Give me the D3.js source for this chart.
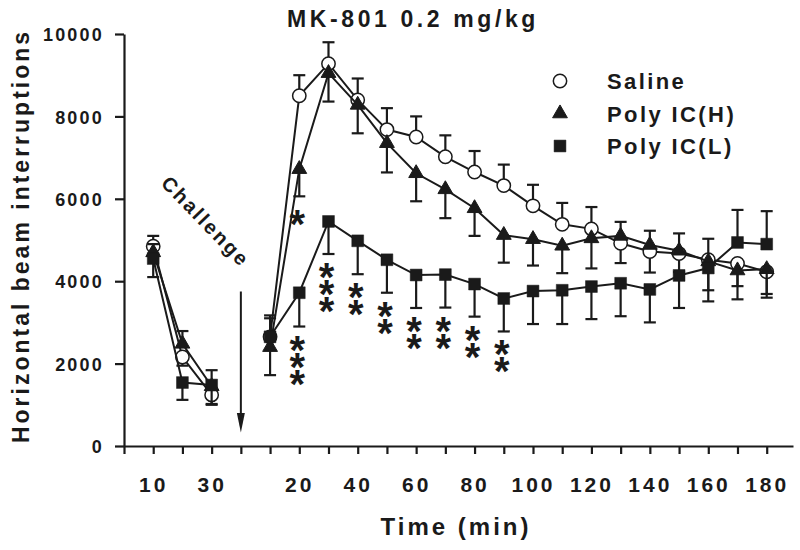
<!DOCTYPE html>
<html>
<head>
<meta charset="utf-8">
<script src="https://cdn.jsdelivr.net/npm/d3@7"></script>
<style>
  body { margin: 0; background: #fff; }
  svg text { font-family: "Liberation Sans", Arial, sans-serif; font-weight: bold; fill: #1a1a1a; }
</style>
</head>
<body>
<script>
// slots on the x axis: 0 = origin, 1-3 = pre-challenge, 4 = challenge, 5-22 = post
var xTickLabels = ["", "10", "", "30", "", "", "20", "", "40", "", "60", "", "80", "", "100", "", "120", "", "140", "", "160", "", "180"];
var preSlots = [1, 2, 3];
var postSlots = d3.range(5, 23);
var yTicks = [0, 2000, 4000, 6000, 8000, 10000];

// means (pre-challenge 10,20,30 min ; post-challenge 10..180 min)
var salinePre = [4850, 2160, 1240];
var polyHPre = [4700, 2480, 1450];
var polyLPre = [4550, 1540, 1480];
var salinePost = [2650, 8500, 9280, 8400, 7680, 7500, 7020, 6650, 6320, 5830, 5380, 5270, 4920, 4720, 4670, 4520, 4430, 4230];
var polyHPost = [2400, 6720, 9050, 8280, 7350, 6620, 6230, 5770, 5120, 5020, 4860, 5040, 5100, 4880, 4740, 4480, 4260, 4290];
var polyLPost = [2650, 3720, 5450, 4980, 4520, 4150, 4160, 3930, 3580, 3760, 3780, 3870, 3950, 3800, 4140, 4320, 4940, 4900];

// SEM drawn one-sided: positive = bar up, negative = bar down
var salinePreSem = [250, -210, -220];
var polyHPreSem = [200, 310, -450];
var polyLPreSem = [-450, -420, 360];
var salinePostSem = [450, 500, 520, 520, 520, 500, 520, 510, 510, 510, 520, 530, -480, -510, -450, 510, -550, -630];
var polyHPostSem = [-680, -660, -690, -690, -710, -680, -700, -670, -670, -640, -665, -730, 340, 345, 420, -700, -700, -600];
var polyLPostSem = [520, -820, -790, -810, -800, -800, -800, -790, -800, -800, -820, -790, -800, -800, -790, -810, 790, 800];

// significance marks (Poly IC(L) and Poly IC(H) vs saline)
var starSlotsL = [6, 7, 8, 9, 10, 11, 12, 13];
var starTextL = ["***", "***", "**", "**", "**", "**", "**", "**"];
var starSlotsH = [6];
var starTextH = ["*"];

var W = 800, H = 550;
var svg = d3.select("body").append("svg").attr("width", W).attr("height", H);

var x = d3.scaleLinear().domain([0, 22.9]).range([124, 793]);
var y = d3.scaleLinear().domain([0, 10000]).range([446, 34]);

// axes
var xAxis = svg.append("g").attr("transform", "translate(0," + y(0) + ")")
  .call(d3.axisBottom(x).tickValues(d3.range(0, 23)).tickSize(8).tickSizeOuter(0)
    .tickFormat(function (d) { return xTickLabels[d]; }));
var yAxis = svg.append("g").attr("transform", "translate(" + x(0) + ",0)")
  .call(d3.axisLeft(y).tickValues(yTicks).tickSize(9).tickSizeOuter(0).tickFormat(d3.format("d")));

[xAxis, yAxis].forEach(function (g) {
  g.select(".domain").attr("stroke", "#1a1a1a").attr("stroke-width", 2.2);
  g.selectAll(".tick line").attr("stroke", "#1a1a1a").attr("stroke-width", 2.2);
});
xAxis.selectAll(".tick text").attr("y", 46).attr("dy", null)
  .style("font-size", "21px").style("letter-spacing", "3px");
yAxis.selectAll(".tick text").attr("x", -20).attr("dy", "0.37em")
  .style("font-size", "18px").style("letter-spacing", "2.2px");

// titles
svg.append("text").attr("x", 413).attr("y", 27).attr("text-anchor", "middle")
  .style("font-size", "23px").style("letter-spacing", "3.6px").text("MK-801 0.2 mg/kg");
svg.append("text").attr("x", 456).attr("y", 535).attr("text-anchor", "middle")
  .style("font-size", "24px").style("letter-spacing", "3px").text("Time (min)");
svg.append("text").attr("transform", "translate(29,236) rotate(-90)").attr("text-anchor", "middle")
  .style("font-size", "23px").style("letter-spacing", "3px").text("Horizontal beam interruptions");

// challenge annotation
svg.append("text").attr("transform", "translate(" + x(2.8) + "," + y(5450) + ") rotate(46)")
  .attr("text-anchor", "middle").attr("dy", "0.35em")
  .style("font-size", "20px").style("letter-spacing", "2.4px").text("Challenge");
svg.append("line").attr("x1", x(4)).attr("x2", x(4)).attr("y1", y(3750)).attr("y2", y(500))
  .attr("stroke", "#1a1a1a").attr("stroke-width", 2);
svg.append("path").attr("d", "M" + (x(4) - 4) + "," + y(800) + "L" + x(4) + "," + y(330) + "L" + (x(4) + 4) + "," + y(800) + "Z")
  .attr("fill", "#1a1a1a");

var line = d3.line().x(function (d) { return x(d[0]); }).y(function (d) { return y(d[1]); });

function drawSeries(preVals, preSem, postVals, postSem, marker) {
  var g = svg.append("g");
  var pts = [];
  preSlots.forEach(function (s, i) { pts.push({ s: s, v: preVals[i], e: preSem[i] }); });
  postSlots.forEach(function (s, i) { pts.push({ s: s, v: postVals[i], e: postSem[i] }); });

  g.selectAll(".err").data(pts).enter().append("line")
    .attr("x1", function (d) { return x(d.s); }).attr("x2", function (d) { return x(d.s); })
    .attr("y1", function (d) { return y(d.v); }).attr("y2", function (d) { return y(d.v + d.e); })
    .attr("stroke", "#1a1a1a").attr("stroke-width", 2.2);
  g.selectAll(".cap").data(pts).enter().append("line")
    .attr("x1", function (d) { return x(d.s) - 6; }).attr("x2", function (d) { return x(d.s) + 6; })
    .attr("y1", function (d) { return y(d.v + d.e); }).attr("y2", function (d) { return y(d.v + d.e); })
    .attr("stroke", "#1a1a1a").attr("stroke-width", 2.2);

  [preSlots.map(function (s, i) { return [s, preVals[i]]; }),
   postSlots.map(function (s, i) { return [s, postVals[i]]; })].forEach(function (seg) {
    g.append("path").attr("d", line(seg)).attr("fill", "none").attr("stroke", "#1a1a1a").attr("stroke-width", 2);
  });

  g.selectAll(".pt").data(pts).enter().append("path")
    .attr("transform", function (d) { return "translate(" + x(d.s) + "," + y(d.v) + ")"; })
    .attr("d", marker.path).attr("fill", marker.fill).attr("stroke", "#1a1a1a").attr("stroke-width", marker.sw);
}

var markers = {
  saline: { path: d3.symbol(d3.symbolCircle, 140)(), fill: "#fff", sw: 1.5 },
  polyH: { path: d3.symbol(d3.symbolTriangle, 95)(), fill: "#1a1a1a", sw: 1 },
  polyL: { path: d3.symbol(d3.symbolSquare, 140)(), fill: "#1a1a1a", sw: 0.5 }
};

drawSeries(salinePre, salinePreSem, salinePost, salinePostSem, markers.saline);
drawSeries(polyHPre, polyHPreSem, polyHPost, polyHPostSem, markers.polyH);
drawSeries(polyLPre, polyLPreSem, polyLPost, polyLPostSem, markers.polyL);

// asterisks stacked vertically below the lower error caps (one vertical text per stack)
function drawStars(slots, texts, vals, sems, gap) {
  slots.forEach(function (s, i) {
    var k = postSlots.indexOf(s);
    svg.append("text")
      .attr("x", x(s) - 2).attr("y", y(vals[k] + sems[k]) + gap)
      .style("writing-mode", "vertical-rl").style("text-orientation", "upright")
      .style("font-size", "40px").style("letter-spacing", "-27px")
      .text(texts[i]);
  });
}
drawStars(starSlotsL, starTextL, polyLPost, polyLPostSem, 1);
drawStars(starSlotsH, starTextH, polyHPost, polyHPostSem, 6);

// legend
var legendNames = ["Saline", "Poly IC(H)", "Poly IC(L)"];
var legendMarkers = [markers.saline, markers.polyH, markers.polyL];
var legend = svg.append("g").attr("transform", "translate(560,81)");
legendNames.forEach(function (name, i) {
  legend.append("path").attr("transform", "translate(0," + i * 32.5 + ")")
    .attr("d", legendMarkers[i].path).attr("fill", legendMarkers[i].fill)
    .attr("stroke", "#1a1a1a").attr("stroke-width", legendMarkers[i].sw);
  legend.append("text").attr("x", 47).attr("y", i * 32.5 + 8)
    .style("font-size", "22px").style("letter-spacing", "2.4px").text(name);
});
</script>
</body>
</html>
